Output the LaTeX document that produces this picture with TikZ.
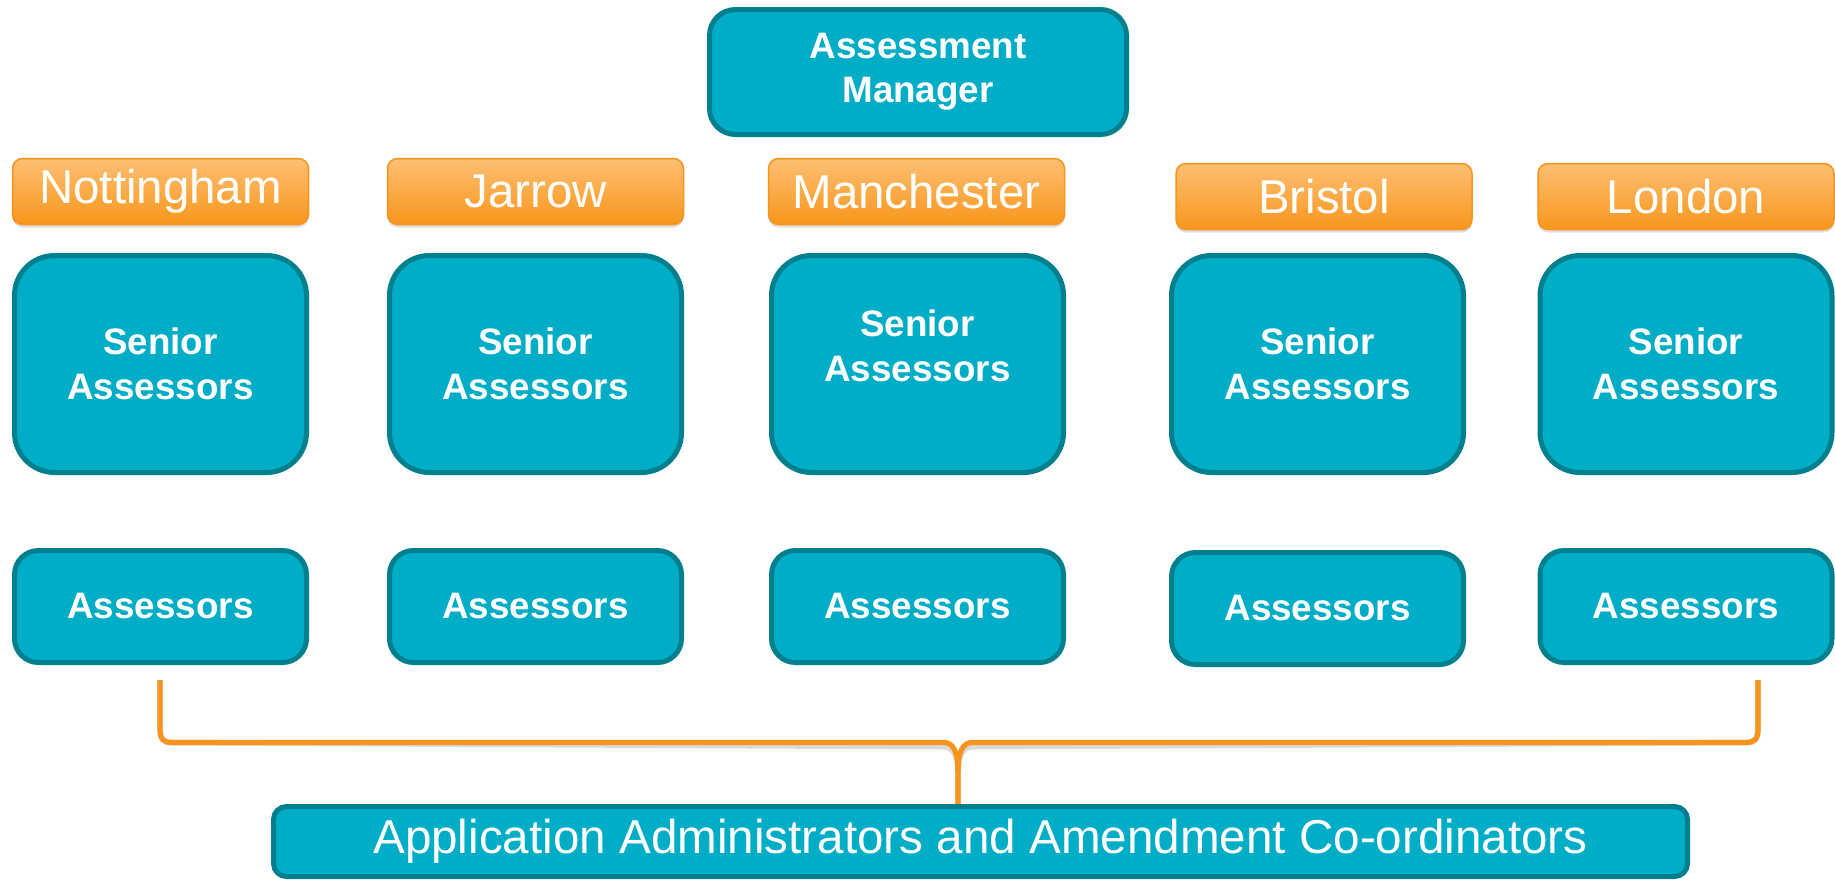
\documentclass[tikz,border=0pt]{standalone}
\usepackage{fontspec}
\setmainfont{Liberation Sans}
\usetikzlibrary{shadows,calc}
\definecolor{tealfill}{RGB}{0,173,198}
\definecolor{tealline}{RGB}{0,128,143}
\definecolor{orgtop}{RGB}{253,191,114}
\definecolor{orgbot}{RGB}{248,150,28}
\definecolor{orgline}{RGB}{247,148,29}
\begin{document}
\begin{tikzpicture}[x=0.5pt,y=-0.5pt,
  tbox/.style={draw=tealline, fill=tealfill, line width=2.5pt, text=white,
    font=\fontsize{18.4}{22.2}\selectfont\bfseries, align=center, inner sep=0pt},
  mgrbox/.style={tbox, minimum width=208.5pt, minimum height=62.5pt, rounded corners=13pt},
  srbox/.style={tbox, minimum width=146pt, minimum height=108.5pt, rounded corners=20pt},
  asbox/.style={tbox, minimum width=146pt, minimum height=56pt, rounded corners=12pt},
  appbox/.style={tbox, minimum width=707pt, minimum height=35pt, rounded corners=6.5pt,
    font=\fontsize{23.8}{28}\selectfont},
  citybox/.style={draw=orgline, line width=0.75pt, top color=orgtop, bottom color=orgbot,
    text=white, font=\fontsize{23.7}{28}\selectfont, inner sep=0pt,
    minimum width=148pt, minimum height=33pt, rounded corners=5pt,
    drop shadow={opacity=0.25, shadow xshift=0pt, shadow yshift=-1.5pt}},
  txt/.style={text=white, font=\fontsize{18.4}{22.2}\selectfont\bfseries, align=center, inner sep=0pt},
  bracefront/.style={draw=orgline, line width=2.6pt},
  braceshadow/.style={draw=black, opacity=0.15, line width=3pt}
]
\useasboundingbox[fill=white] (0,0) rectangle (1835,879);

% manager
\node[mgrbox] (mgr) at (918,72) {Assessment\\Manager};

% cities
\node[citybox] (c1) at (160.5,191.5) {Nottingham};
\node[citybox] (c2) at (535.5,191.5) {Jarrow};
\node[citybox] (c3) at (916.5,191.5) {Manchester};
\node[citybox] (c4) at (1324,196.5) {Bristol};
\node[citybox] (c5) at (1686,196.5) {London};

% senior assessors
\node[srbox] (s1) at (160.5,364) {Senior\\Assessors};
\node[srbox] (s2) at (535.5,364) {Senior\\Assessors};
\node[srbox] (s3) at (917.5,364) {};
\node[txt] (s3t) at ([yshift=9pt]s3.center) {Senior\\Assessors};
\node[srbox] (s4) at (1317.5,364) {Senior\\Assessors};
\node[srbox] (s5) at (1686,364) {Senior\\Assessors};

% assessors
\node[asbox] (a1) at (160.5,606.5) {Assessors};
\node[asbox] (a2) at (535.5,606.5) {Assessors};
\node[asbox] (a3) at (917.5,606.5) {Assessors};
\node[asbox] (a4) at (1317.5,608.5) {Assessors};
\node[asbox] (a5) at (1686,606.5) {Assessors};

% application
\node[appbox] (app) at (980.5,841.5) {Application Administrators and Amendment Co-ordinators};

% brace
\coordinate (bl) at (160,680);
\coordinate (br) at (1758,680);
\coordinate (bm) at (958,770);
\foreach \st/\dy in {braceshadow/2, bracefront/0}{
  \begin{scope}[yshift=-\dy pt]
  \path[\st] (bl) -- ($(bl)+(0,48)$) .. controls ($(bl)+(0,59)$) and ($(bl)+(3,62.5)$) .. ($(bl)+(12,62.5)$)
    -- (944,742.5) .. controls (953,742.5) and (958,752) .. (bm) -- (bm |- app.north);
  \path[\st] (br) -- ($(br)+(0,48)$) .. controls ($(br)+(0,59)$) and ($(br)+(-3,62.5)$) .. ($(br)+(-12,62.5)$)
    -- (972,742.5) .. controls (963,742.5) and (958,752) .. (bm);
  \end{scope}
}
\end{tikzpicture}
\end{document}
